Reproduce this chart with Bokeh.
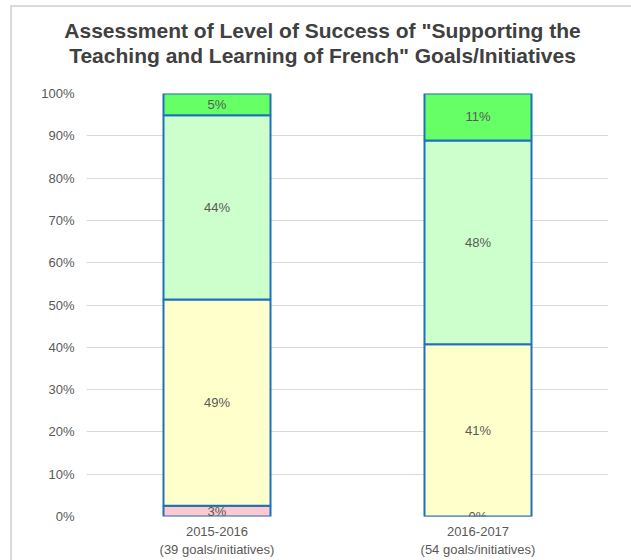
from bokeh.plotting import figure
from bokeh.models import ColumnDataSource, Div
from bokeh.layouts import column
from bokeh.embed import file_html
from bokeh.resources import INLINE
from bokeh.core.properties import value

categories = ["2015-2016\n(39 goals/initiatives)", "2016-2017\n(54 goals/initiatives)"]
segments = ["red", "yellow", "lightgreen", "green"]
red = [2.56, 0.0]
yellow = [48.72, 40.74]
lightgreen = [43.59, 48.15]
green = [5.13, 11.11]
red_labels = ["3%", "0%"]
yellow_labels = ["49%", "41%"]
lightgreen_labels = ["44%", "48%"]
green_labels = ["5%", "11%"]
y_ticks = [0, 10, 20, 30, 40, 50, 60, 70, 80, 90, 100]
y_tick_labels = ["0%", "10%", "20%", "30%", "40%", "50%", "60%", "70%", "80%", "90%", "100%"]
title_lines = ['Assessment of Level of Success of "Supporting the',
               'Teaching and Learning of French" Goals/Initiatives']

colors = ["#fcc9cc", "#ffffcc", "#ccffcc", "#66ff66"]
font = "Liberation Sans"

data = dict(cat=categories, red=red, yellow=yellow, lightgreen=lightgreen, green=green)
src = ColumnDataSource(data)

p = figure(x_range=categories, y_range=(0, 100), width=619, height=483,
           output_backend="svg", toolbar_location=None,
           min_border_left=74, min_border_right=23, min_border_top=16, min_border_bottom=44)
p.margin = (0, 0, 0, 0)

p.vbar_stack(segments, x="cat", width=0.41, source=src, fill_color=colors,
             line_color="#1f6fbf", line_width=2)

# labels
all_labels = [red_labels, yellow_labels, lightgreen_labels, green_labels]
series = [red, yellow, lightgreen, green]
lx, ly, lt = [], [], []
for i, c in enumerate(categories):
    base = 0.0
    for s, labs in zip(series, all_labels):
        lx.append(c)
        ly.append(base + s[i] / 2.0)
        lt.append(labs[i])
        base += s[i]
lsrc = ColumnDataSource(dict(x=lx, y=ly, t=lt))
p.text(x="x", y="y", text="t", source=lsrc, text_align="center", text_baseline="middle",
       text_font=value(font), text_font_size="13px", text_color="#595959")

p.yaxis.ticker = y_ticks
p.yaxis.major_label_overrides = {v: l for v, l in zip(y_ticks, y_tick_labels)}
p.yaxis.axis_line_color = None
p.yaxis.major_tick_line_color = None
p.yaxis.major_tick_out = 0
p.yaxis.major_tick_in = 0
p.yaxis.minor_tick_line_color = None
p.yaxis.major_label_standoff = 12
p.yaxis.major_label_text_font = font
p.yaxis.major_label_text_font_size = "13px"
p.yaxis.major_label_text_color = "#595959"

p.xaxis.axis_line_color = None
p.xaxis.major_tick_line_color = None
p.xaxis.major_tick_out = 0
p.xaxis.major_tick_in = 0
p.xaxis.major_label_standoff = 7
p.xaxis.major_label_text_font = font
p.xaxis.major_label_text_font_size = "13px"
p.xaxis.major_label_text_color = "#595959"

p.xgrid.grid_line_color = None
p.ygrid.grid_line_color = "#d9d9d9"
p.outline_line_color = None

title_html = ('<div style="font-family:\'Liberation Sans\',Arial,sans-serif;font-size:21px;'
              'font-weight:bold;color:#404040;text-align:center;line-height:25px;'
              'padding-top:11px;padding-left:21px;width:600px;">'
              + title_lines[0] + '<br>' + title_lines[1] + '</div>')
div = Div(text=title_html, width=619, height=70)
div.margin = (0, 0, 0, 0)

layout = column(div, p, spacing=0)
layout.styles = {"margin-left": "10px", "margin-top": "5px",
                 "border-left": "2px solid #dadada", "border-top": "2px solid #dadada"}

open("out.html", "w").write(file_html(layout, INLINE))
